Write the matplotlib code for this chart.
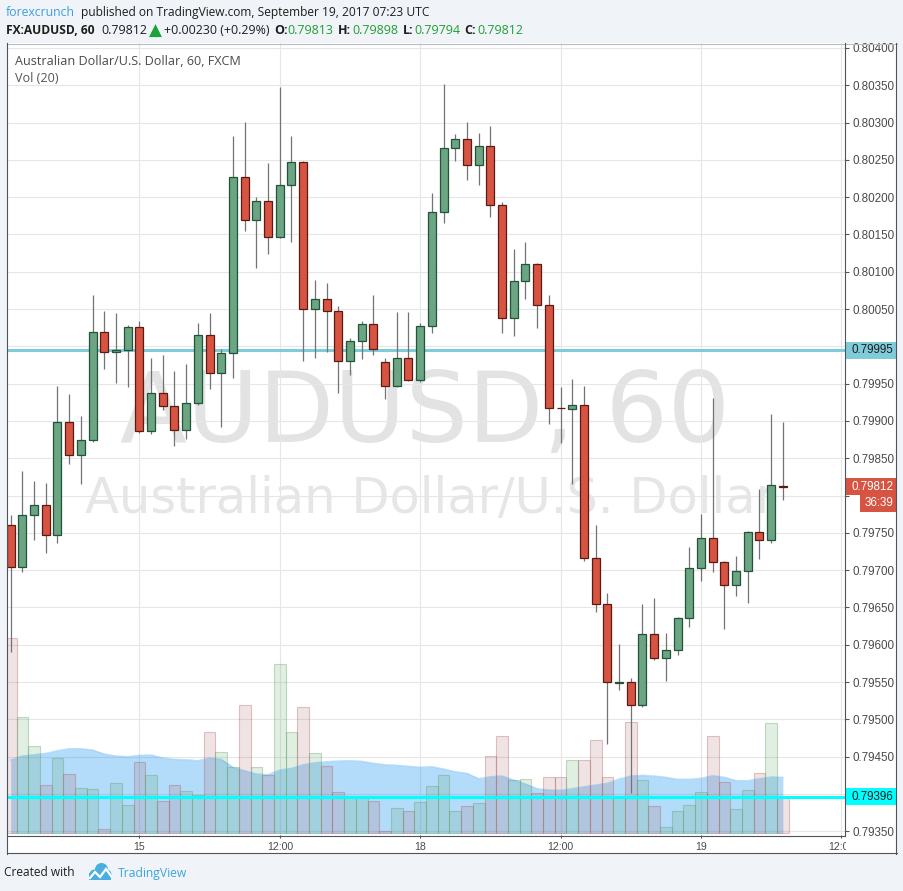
import numpy as np
import matplotlib
matplotlib.use("Agg")
import matplotlib.pyplot as plt
from matplotlib.transforms import Affine2D
from matplotlib.lines import Line2D
from matplotlib.patches import Rectangle, Circle

# ---------------- data ----------------
opens = [0.79760, 0.79704, 0.79774, 0.79788, 0.79747, 0.79898, 0.79854, 0.79874, 0.80019, 0.79992,
         0.79995, 0.80026, 0.79886, 0.79937, 0.79920, 0.79888, 0.79924, 0.80015, 0.79964, 0.79991,
         0.80227, 0.80169, 0.80195, 0.80146, 0.80217, 0.80247, 0.80050, 0.80064, 0.80048, 0.79981,
         0.80007, 0.80030, 0.79979, 0.79947, 0.79984, 0.79955, 0.80027, 0.80180, 0.80266, 0.80278,
         0.80243, 0.80268, 0.80190, 0.80038, 0.80087, 0.80110, 0.80056, 0.79918, 0.79916, 0.79922,
         0.79716, 0.79654, 0.79549, 0.79550, 0.79519, 0.79614, 0.79582, 0.79593, 0.79636, 0.79703,
         0.79743, 0.79711, 0.79680, 0.79699, 0.79751, 0.79741, 0.79813]
highs = [0.79774, 0.79833, 0.79820, 0.79817, 0.79947, 0.79936, 0.79907, 0.80069, 0.80047, 0.80045,
         0.80029, 0.80034, 0.79984, 0.79988, 0.79967, 0.79976, 0.80031, 0.80045, 0.79997, 0.80282,
         0.80301, 0.80200, 0.80246, 0.80348, 0.80282, 0.80248, 0.80089, 0.80085, 0.80054, 0.80011,
         0.80034, 0.80069, 0.79984, 0.80046, 0.80046, 0.80032, 0.80205, 0.80352, 0.80285, 0.80301,
         0.80286, 0.80295, 0.80194, 0.80131, 0.80140, 0.80112, 0.80069, 0.79945, 0.79956, 0.79947,
         0.79761, 0.79669, 0.79601, 0.79555, 0.79655, 0.79663, 0.79616, 0.79637, 0.79731, 0.79775,
         0.79931, 0.79712, 0.79719, 0.79752, 0.79809, 0.79909, 0.79898]
lows = [0.79590, 0.79697, 0.79740, 0.79723, 0.79737, 0.79843, 0.79816, 0.79872, 0.79970, 0.79951,
        0.79945, 0.79884, 0.79882, 0.79915, 0.79866, 0.79876, 0.79921, 0.79943, 0.79892, 0.79957,
        0.80155, 0.80105, 0.80124, 0.80145, 0.80140, 0.79980, 0.79984, 0.79992, 0.79937, 0.79961,
        0.79983, 0.79988, 0.79929, 0.79946, 0.79954, 0.79952, 0.80018, 0.80165, 0.80248, 0.80223,
        0.80217, 0.80173, 0.80018, 0.80014, 0.80063, 0.80024, 0.79896, 0.79870, 0.79815, 0.79712,
        0.79644, 0.79467, 0.79539, 0.79401, 0.79517, 0.79579, 0.79551, 0.79586, 0.79624, 0.79685,
        0.79697, 0.79621, 0.79666, 0.79656, 0.79715, 0.79736, 0.79794]
closes = [0.79704, 0.79774, 0.79788, 0.79747, 0.79898, 0.79854, 0.79874, 0.80019, 0.79992, 0.79995,
          0.80026, 0.79886, 0.79937, 0.79920, 0.79888, 0.79924, 0.80015, 0.79964, 0.79991, 0.80227,
          0.80169, 0.80195, 0.80146, 0.80217, 0.80247, 0.80050, 0.80064, 0.80048, 0.79981, 0.80007,
          0.80030, 0.79996, 0.79947, 0.79984, 0.79955, 0.80027, 0.80180, 0.80266, 0.80278, 0.80243,
          0.80268, 0.80190, 0.80038, 0.80087, 0.80110, 0.80056, 0.79917, 0.79917, 0.79922, 0.79716,
          0.79654, 0.79550, 0.79550, 0.79519, 0.79614, 0.79582, 0.79593, 0.79636, 0.79703, 0.79743,
          0.79711, 0.79680, 0.79699, 0.79751, 0.79741, 0.79814, 0.79812]
volumes = [1950, 1160, 873, 483, 750, 593, 450, 440, 40, 500,
           280, 710, 580, 320, 480, 420, 380, 1010, 810, 660,
           1280, 660, 580, 1693, 1010, 1260, 800, 670, 410, 360,
           360, 320, 20, 250, 220, 310, 470, 580, 220, 270,
           300, 770, 970, 530, 540, 400, 560, 560, 730, 730,
           930, 560, 360, 1110, 530, 270, 60, 220, 280, 410,
           970, 510, 240, 430, 600, 1100, 360]
vol_ma20 = [733, 773, 786, 800, 826, 846, 846, 833, 793, 773,
            766, 780, 783, 753, 740, 736, 726, 753, 740, 660,
            626, 593, 586, 633, 650, 686, 706, 716, 723, 726,
            720, 700, 686, 680, 670, 660, 666, 643, 616, 600,
            546, 566, 573, 533, 493, 446, 433, 430, 446, 466,
            483, 500, 543, 573, 580, 573, 560, 540, 540, 550,
            576, 560, 526, 526, 546, 563, 560]
time_tick_index = [11, 23, 35, 47, 59, 71]
time_tick_labels = ["15", "12:00", "18", "12:00", "19", "12:00"]
price_ticks = [0.79350, 0.79400, 0.79450, 0.79500, 0.79550, 0.79600, 0.79650, 0.79700,
               0.79750, 0.79800, 0.79850, 0.79900, 0.79950, 0.80000, 0.80050, 0.80100,
               0.80150, 0.80200, 0.80250, 0.80300, 0.80350, 0.80400]
level_line_price = 0.79995
support_line_price = 0.79396
last_price = 0.79812
countdown = "36:39"

# ---------------- figure ----------------
W, H = 904, 891
fig = plt.figure(figsize=(W / 100, H / 100), dpi=100, facecolor="#f0f3f7")
PX = Affine2D().scale(1 / W, -1 / H).translate(0, 1) + fig.transFigure
renderer = fig.canvas.get_renderer()


def fx(x):
    return x / W


def fy(y):
    return 1 - y / H


def fit_width(t, target):
    w = t.get_window_extent(renderer).width
    t.set_fontsize(t.get_fontsize() * target / w)
    return t


fig.add_artist(Rectangle((7, 43), 890, 810, transform=PX, facecolor="white",
                         edgecolor="none", zorder=0))

# pane geometry (pixels)
PL, PR, PT, PB = 7, 845, 43, 835
pos = [fx(PL), fy(PB), (PR - PL) / W, (PB - PT) / H]
XL, XR = -0.3137, 71.31
YT, YB = 0.804067, 0.793450
VB, VT = -17, 7903


def price_to_px(p):
    return PT + (YT - p) / (YT - YB) * (PB - PT)


ax = fig.add_axes(pos, zorder=1)
axv = fig.add_axes(pos, zorder=2, sharex=ax)
axc = fig.add_axes(pos, zorder=3, sharex=ax, sharey=ax)
for a in (ax, axv, axc):
    for s in a.spines.values():
        s.set_visible(False)
axv.patch.set_visible(False)
axc.patch.set_visible(False)
axv.axis("off")
axc.axis("off")

ax.set_xlim(XL, XR)
ax.set_ylim(YB, YT)
axv.set_ylim(VB, VT)

# tick labels hidden behind the coloured price boxes are left empty
box_pixels = [price_to_px(level_line_price), price_to_px(support_line_price),
              price_to_px(last_price), price_to_px(last_price) + 16.8]
ylabels = []
for v in price_ticks:
    hidden = any(abs(price_to_px(v) - b) < 13 for b in box_pixels)
    ylabels.append("" if hidden else f"{v:.5f}")
ax.set_yticks(price_ticks)
ax.set_yticklabels(ylabels)
ax.yaxis.tick_right()
ax.tick_params(axis="y", length=2.6, width=0.8, color="#555555", pad=2.6,
               labelsize=8.4, labelcolor="#4a4a4a")
ax.set_xticks(time_tick_index)
ax.set_xticklabels(time_tick_labels)
ax.tick_params(axis="x", length=2.2, width=0.8, color="#555555", pad=2.6,
               labelsize=7.6, labelcolor="#4a4a4a")
for lab in ax.get_xticklabels() + ax.get_yticklabels():
    lab.set_fontfamily("Liberation Sans")
ax.set_axisbelow(True)
ax.grid(True, color="#e6e6e6", lw=0.8)

# watermark
wm1 = ax.text(fx(425), fy(442), "AUDUSD, 60", transform=fig.transFigure, ha="center",
              va="baseline", fontsize=70, color="#e3e3e3", family="DejaVu Sans", zorder=0.3)
wm2 = ax.text(fx(431), fy(513), "Australian Dollar/U.S. Dollar", transform=fig.transFigure,
              ha="center", va="baseline", fontsize=36, color="#e6e6e6", family="DejaVu Sans",
              zorder=0.3)
fit_width(wm1, 610)
fit_width(wm2, 692)

# resistance line
ax.axhline(level_line_price, color="#80cbd9", lw=2.2, zorder=2)

# volume
idx = np.arange(len(opens))
o = np.array(opens); c = np.array(closes); hi = np.array(highs); lo = np.array(lows)
up = c >= o
axv.fill_between(idx, 0, vol_ma20, color=(0.13, 0.59, 0.95, 0.34), lw=0)
axv.plot(idx, vol_ma20, color=(0.13, 0.59, 0.95, 0.30), lw=1)
face = [(0.35, 0.63, 0.39, 0.18) if u else (0.67, 0.35, 0.35, 0.17) for u in up]
edge = [(0.35, 0.63, 0.39, 0.36) if u else (0.67, 0.35, 0.35, 0.34) for u in up]
axv.bar(idx, volumes, width=1.0, color=face, edgecolor=edge, linewidth=0.8)

# support line
axc.axhline(support_line_price, color="#00ffff", lw=2.2, zorder=1)

# candles
axc.vlines(idx, lo, hi, color="#737375", lw=0.9, zorder=2)
body_bottom = np.minimum(o, c)
body_h = np.maximum(np.abs(c - o), 0.000004)
axc.bar(idx, body_h, bottom=body_bottom, width=0.68,
        color=["#6ba583" if u else "#d75442" for u in up],
        edgecolor=["#225437" if u else "#5b1a13" for u in up], linewidth=0.9, zorder=3)


# ---------------- right-axis labels ----------------
def axis_box(p, text, fc, tc, x0=845.5, x1=896.5, h=17):
    y = price_to_px(p)
    fig.add_artist(Rectangle((x0, y - h / 2), x1 - x0, h, transform=PX, facecolor=fc,
                             edgecolor="none", zorder=10))
    fig.text(fx(851.5), fy(y), text, ha="left", va="center", color=tc, fontsize=8.4,
             family="Liberation Sans", zorder=11)


axis_box(level_line_price, f"{level_line_price:.5f}", "#80cbd9", "#1e1e1e")
axis_box(support_line_price, f"{support_line_price:.5f}", "#00ffff", "#1e1e1e")
axis_box(last_price, f"{last_price:.5f}", "#d75442", "white")
yl = price_to_px(last_price)
fig.add_artist(Rectangle((860, yl + 8.5), 36.5, 16.5, transform=PX, facecolor="#d75442",
                         edgecolor="none", zorder=10))
fig.text(fx(865), fy(yl + 16.8), countdown, ha="left", va="center", color="white",
         fontsize=8.4, family="Liberation Sans", zorder=11)

# corner (clips the last labels)
fig.add_artist(Rectangle((845.6, 835.6), 51, 17, transform=PX, facecolor="white",
                         edgecolor="none", zorder=9))


# frame lines
def fline(x0, y0, x1, y1, color, lw=0.8):
    fig.add_artist(Line2D([x0, x1], [y0, y1], transform=PX, color=color, lw=lw, zorder=12))


fline(7, 43.5, 897, 43.5, "#b9bdc3")
fline(7.5, 43, 7.5, 853.5, "#50545a")
fline(896.5, 43, 896.5, 853.5, "#50545a")
fline(7, 853, 897, 853, "#50545a")
fline(7, 835.5, 845.5, 835.5, "#50545a")
fline(845.5, 43, 845.5, 835.5, "#50545a")

# ---------------- header texts ----------------
OS = ["Open Sans", "DejaVu Sans"]
DK = "#1e1e1e"
GR = "#1f9e34"


def htext(x, y, s, color, width=None, size=9, weight="normal", family=OS):
    t = fig.text(fx(x), fy(y), s, color=color, fontsize=size, fontweight=weight,
                 family=family, va="center", ha="left", zorder=5)
    if width is not None:
        fit_width(t, width)
    return t


htext(6, 12.5, "forexcrunch", "#3d9fdb", width=70)
htext(81, 12.5, "published on TradingView.com, September 19, 2017 07:23 UTC", DK, width=352)

num = htext(101, 30.5, "0.79812", DK, width=46)
ns = num.get_fontsize()
htext(6, 30.5, "FX:AUDUSD, 60", DK, width=89, weight="bold")
htext(149, 30.5, "\u25b2", "#1aa336", width=13, family=["DejaVu Sans"])
htext(164, 30.5, "+0.00230 (+0.29%)", DK, width=105)
for lab_x, lab, val_x, val in [(274, "O:", 287, "0.79813"), (338, "H:", 352, "0.79898"),
                               (403, "L:", 414, "0.79794"), (464, "C:", 477, "0.79812")]:
    htext(lab_x, 30.5, lab, DK, size=ns, weight="bold")
    htext(val_x, 30.5, val, GR, size=ns)

# legend inside the pane
t1 = htext(15, 61.5, "Australian Dollar/U.S. Dollar, 60, FXCM", "#4a4a4a", width=227)
t1.set_zorder(13)
htext(15, 78.5, "Vol (20)", "#555555", size=t1.get_fontsize()).set_zorder(13)

# footer
htext(4, 873, "Created with", DK, width=71)
htext(118, 873, "TradingView", "#3ba5dd", width=70)
logo_c = "#4aaee0"
for (cx, cy, r) in [(94.5, 874.5, 5.0), (101.5, 869.5, 6.5), (106.5, 874.5, 5.0)]:
    fig.add_artist(Circle((cx, cy), r, transform=PX, facecolor=logo_c, edgecolor="none", zorder=5))
fig.add_artist(Rectangle((89.5, 873), 22, 6.5, transform=PX, facecolor=logo_c,
                         edgecolor="none", zorder=5))
fig.add_artist(Line2D([90, 95, 100, 106, 111], [878, 872, 877, 869, 876], transform=PX,
                      color="white", lw=1.6, zorder=6, solid_joinstyle="miter"))

fig.savefig("out.png", dpi=100, facecolor=fig.get_facecolor())
